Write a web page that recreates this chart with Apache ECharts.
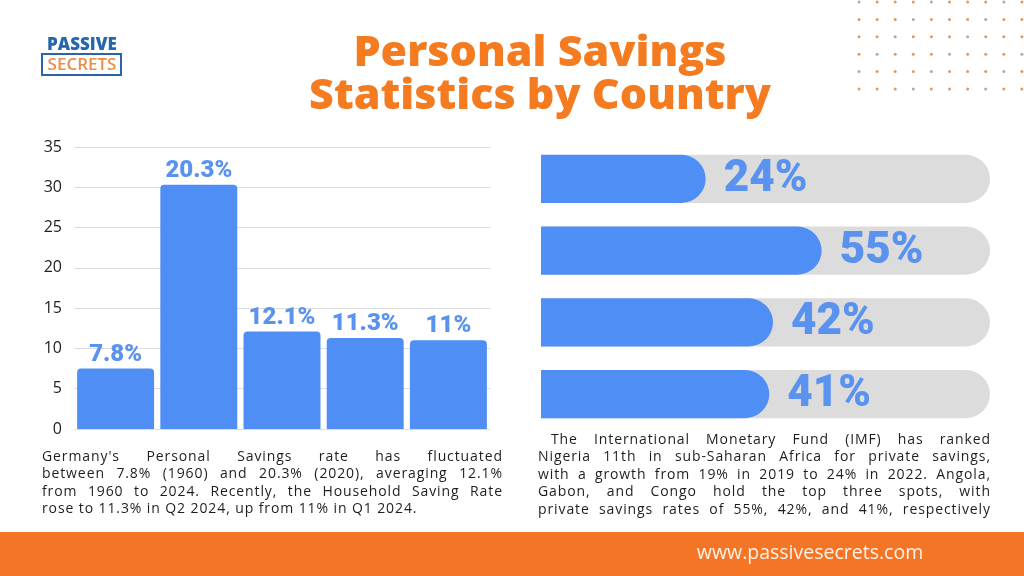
<!DOCTYPE html>
<html>
<head>
<meta charset="utf-8">
<script src="https://cdn.jsdelivr.net/npm/echarts@6/dist/echarts.min.js"></script>
<style>
html,body{margin:0;padding:0;background:#fff;}
#chart{width:1024px;height:576px;}
</style>
</head>
<body>
<div id="chart"></div>
<script>
// ---- data ----
const germanyCategories = ['1960 (low)', '2020 (high)', 'Average 1960-2024', 'Q2 2024', 'Q1 2024'];
const germanyBarValues = [7.5, 30.3, 12.1, 11.3, 11.0];
const germanyBarLabels = ['7.8%', '20.3%', '12.1%', '11.3%', '11%'];
const germanyAxisMin = 0, germanyAxisMax = 35, germanyAxisStep = 5;

const africaCountries = ['Nigeria', 'Angola', 'Gabon', 'Congo'];
const africaRates = [24, 55, 42, 41];
const africaRateLabels = ['24%', '55%', '42%', '41%'];
const africaAxisMin = -20, africaAxisMax = 100;

const titleLines = ['Personal Savings', 'Statistics by Country'];
const leftParagraph = [
  "Germany's Personal Savings rate has fluctuated",
  "between 7.8% (1960) and 20.3% (2020), averaging 12.1%",
  "from 1960 to 2024. Recently, the Household Saving Rate",
  "rose to 11.3% in Q2 2024, up from 11% in Q1 2024."
];
const rightParagraph = [
  "The International Monetary Fund (IMF) has ranked",
  "Nigeria 11th in sub-Saharan Africa for private savings,",
  "with a growth from 19% in 2019 to 24% in 2022. Angola,",
  "Gabon, and Congo hold the top three spots, with",
  "private savings rates of 55%, 42%, and 41%, respectively"
];
const footerText = 'www.passivesecrets.com';

// ---- styles ----
const BLUE = '#4f8ef5';
const LABEL_BLUE = '#5a92f0';
const ORANGE = '#f47b20';
const TEXT_FONT = 'Open Sans';

const measureCtx = document.createElement('canvas').getContext('2d');
function layoutLine(line, x0, x1, y, size, ls, justify, fill) {
  measureCtx.font = `400 ${size}px "${TEXT_FONT}"`;
  const chars = Array.from(line);
  const widths = chars.map(c => measureCtx.measureText(c).width);
  let natural = widths.reduce((a, b) => a + b, 0) + ls * (chars.length - 1);
  const spaces = chars.filter(c => c === ' ').length;
  const extra = justify && spaces ? (x1 - x0 - natural) / spaces : 0;
  const els = [];
  let x = x0;
  chars.forEach((c, i) => {
    if (c !== ' ') {
      els.push({type: 'text', silent: true, x: x, y: y,
        style: {text: c, fontSize: size, fontFamily: TEXT_FONT, fontWeight: 400, fill: fill, verticalAlign: 'middle'}});
    } else {
      x += extra;
    }
    x += widths[i] + ls;
  });
  return els;
}

const graphics = [];
// logo
graphics.push({type: 'text', x: 82, y: 45, style: {text: 'PASSIVE', fontSize: 17, fontWeight: 800, fontFamily: TEXT_FONT, fill: '#2766ad', align: 'center', verticalAlign: 'middle'}});
graphics.push({type: 'rect', shape: {x: 42, y: 54, width: 79, height: 21}, style: {fill: 'none', stroke: '#2766ad', lineWidth: 2}});
graphics.push({type: 'text', x: 82, y: 65, style: {text: 'SECRETS', fontSize: 17, fontWeight: 600, fontFamily: TEXT_FONT, fill: '#ee8c4a', align: 'center', verticalAlign: 'middle'}});
// title
titleLines.forEach((t, i) => {
  graphics.push({type: 'text', x: 540, y: 54 + i * 43, style: {text: t, fontSize: 43, fontWeight: 800, fontFamily: TEXT_FONT, fill: ORANGE, align: 'center', verticalAlign: 'middle'}});
});
// dots
for (let r = 0; r < 6; r++) {
  for (let c = 0; c < 10; c++) {
    graphics.push({type: 'circle', silent: true, shape: {cx: 859 + c * 18.1, cy: 2 + r * 17.4, r: 1.5}, style: {fill: (r + c) % 4 === 0 ? '#b9a89a' : '#dc9a66'}});
  }
}
// paragraphs
leftParagraph.forEach((line, i) => {
  graphics.push(...layoutLine(line, 42, 502, 457 + i * 17.5, 14, 0.9, i < leftParagraph.length - 1, '#1e1e1e'));
});
rightParagraph.forEach((line, i) => {
  graphics.push(...layoutLine(line, i === 0 ? 551 : 538, 990, 440 + i * 17.5, 14, 0.9, true, '#1e1e1e'));
});
// footer
graphics.push({type: 'rect', silent: true, shape: {x: 0, y: 532, width: 1024, height: 44}, style: {fill: '#f47526'}});
graphics.push({type: 'text', x: 810, y: 553, style: {text: footerText, fontSize: 19.5, fontFamily: TEXT_FONT, fill: '#fff3ea', align: 'center', verticalAlign: 'middle'}});

const chart = echarts.init(document.getElementById('chart'));
chart.setOption({
  backgroundColor: '#ffffff',
  animation: false,
  graphic: graphics,
  grid: [
    {left: 74, right: 534, top: 147, bottom: 147},
    {left: 541, right: 34, top: 143, bottom: 146}
  ],
  xAxis: [
    {gridIndex: 0, type: 'category', data: germanyCategories, axisLine: {show: false}, axisTick: {show: false}, axisLabel: {show: false}},
    {gridIndex: 1, type: 'value', min: africaAxisMin, max: africaAxisMax, show: false}
  ],
  yAxis: [
    {gridIndex: 0, type: 'value', min: germanyAxisMin, max: germanyAxisMax, interval: germanyAxisStep,
      axisLine: {show: false}, axisTick: {show: false},
      axisLabel: {fontSize: 16, color: '#222', fontFamily: TEXT_FONT, margin: 12},
      splitLine: {lineStyle: {color: '#dddddd', width: 1}}},
    {gridIndex: 1, type: 'category', data: africaCountries, inverse: true, show: false}
  ],
  series: [
    {
      type: 'bar', xAxisIndex: 0, yAxisIndex: 0,
      data: germanyBarValues,
      barCategoryGap: '7.5%',
      itemStyle: {color: BLUE, borderRadius: [4, 4, 0, 0]},
      label: {show: true, position: 'top', distance: 2,
        formatter: p => germanyBarLabels[p.dataIndex],
        fontFamily: 'Roboto', fontWeight: 900, fontSize: 24, color: LABEL_BLUE}
    },
    {
      type: 'custom', xAxisIndex: 1, yAxisIndex: 1,
      data: africaRates.map((v, i) => [v, i]),
      encode: {x: 0, y: 1},
      renderItem: function (params, api) {
        const v = api.value(0), cat = api.value(1);
        const start = api.coord([africaAxisMin, cat]);
        const end = api.coord([africaAxisMax, cat]);
        const fill = api.coord([v, cat]);
        const h = api.size([0, 1])[1] * 0.67;
        const r = h / 2;
        return {
          type: 'group',
          children: [
            {type: 'rect', shape: {x: start[0], y: start[1] - r, width: end[0] - start[0], height: h, r: [0, r, r, 0]}, style: {fill: '#dcdcdc'}},
            {type: 'rect', shape: {x: start[0], y: start[1] - r, width: fill[0] - start[0], height: h, r: [0, r, r, 0]}, style: {fill: BLUE}},
            {type: 'text', x: fill[0] + 18, y: start[1] + 1, style: {text: africaRateLabels[params.dataIndex], fontFamily: 'Roboto', fontWeight: 900, fontSize: 44, fill: LABEL_BLUE, verticalAlign: 'middle'}}
          ]
        };
      }
    }
  ]
});
</script>
</body>
</html>
